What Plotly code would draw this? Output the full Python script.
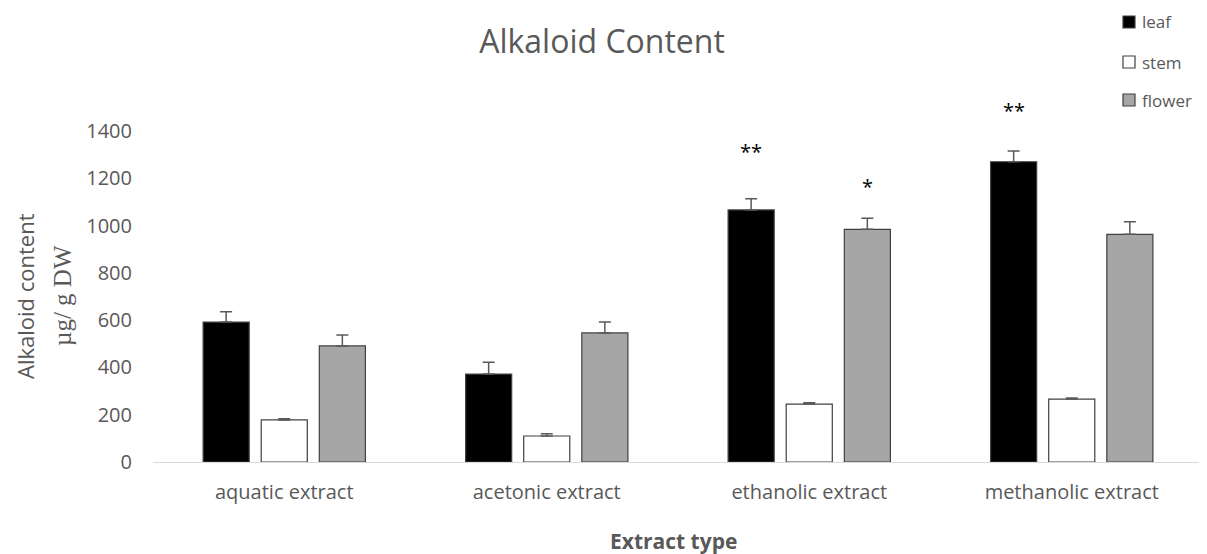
import plotly.graph_objects as go

categories = ["aquatic extract", "acetonic extract", "ethanolic extract", "methanolic extract"]
leaf = [592, 372, 1066, 1270]
leaf_err = [43, 50, 47, 45]
stem = [178, 110, 245, 266]
stem_err = [5, 10, 6, 5]
flower = [491, 546, 984, 963]
flower_err = [46, 46, 47, 53]
y_ticks = [0, 200, 400, 600, 800, 1000, 1200, 1400]

# significance markers: (category index, series, text)
marks = [(2, "leaf", "**"), (2, "flower", "*"), (3, "leaf", "**")]
mark_shift = [47, 32, 41]

TXT = "#595959"
FONT = "Open Sans"

FW, FH = 1207, 554
O = 8  # page body margin offset
# desired on-screen plot box
PX0, PX1, PY0, PY1 = 153, 1203, 131, 462
L = PX0 - O
R = FW + O - PX1
T = PY0 - O
B = FH + O - PY1
W = PX1 - PX0
H = PY1 - PY0


def px(x):
    return (x - PX0) / W


def py(y):
    return (PY1 - y) / H


cat_w = W / len(categories)
bargap = 0.336
slot = cat_w * (1 - bargap) / 3

fig = go.Figure()
series = [("leaf", leaf, leaf_err, "#000000"),
          ("stem", stem, stem_err, "#ffffff"),
          ("flower", flower, flower_err, "#a6a6a6")]
for name, vals, errs, col in series:
    fig.add_trace(go.Bar(
        name=name, x=categories, y=vals,
        marker=dict(color=col, line=dict(color="#404040", width=1.2)),
        error_y=dict(type="data", array=errs, symmetric=False, arrayminus=[0]*len(errs),
                     color="#595959", thickness=1.5, width=6),
        cliponaxis=False, showlegend=False,
    ))

offs = {"leaf": -slot, "stem": 0, "flower": slot}
lookup = {"leaf": (leaf, leaf_err), "stem": (stem, stem_err), "flower": (flower, flower_err)}
for (ci, s, txt), sh in zip(marks, mark_shift):
    v, e = lookup[s]
    fig.add_annotation(x=categories[ci], y=v[ci] + e[ci], xref="x", yref="y",
                       text=txt, showarrow=False, xshift=offs[s], yshift=sh, yanchor="middle",
                       font=dict(size=20, color="#000000", family=FONT))

# custom legend (top right)
leg_y = [22, 62, 100]
for (name, _, _, col), ly in zip(series, leg_y):
    fig.add_shape(type="rect", xref="paper", yref="paper",
                  x0=px(1123), x1=px(1135), y0=py(ly + 6), y1=py(ly - 6),
                  fillcolor=col, line=dict(color="#404040", width=1.2))
    fig.add_annotation(xref="paper", yref="paper", x=px(1140), y=py(ly),
                       xanchor="left", yanchor="middle", text=name, showarrow=False,
                       font=dict(size=17, color=TXT, family=FONT))

fig.add_annotation(xref="paper", yref="paper", x=px(673), y=py(541), yanchor="middle",
                   text="<b>Extract type</b>",
                   showarrow=False, font=dict(size=21, color=TXT, family=FONT))
fig.add_annotation(xref="paper", yref="paper", x=px(25), y=py(296), textangle=-90,
                   xanchor="center", yanchor="middle",
                   text="Alkaloid content", showarrow=False, font=dict(size=22, color=TXT, family=FONT))
fig.add_annotation(xref="paper", yref="paper", x=px(62), y=py(296), textangle=-90,
                   xanchor="center", yanchor="middle",
                   text="µg/ g DW", showarrow=False, font=dict(size=25, color=TXT, family="Liberation Serif"))

fig.update_layout(
    width=FW, height=FH,
    margin=dict(l=L, r=R, t=T, b=B, autoexpand=False),
    paper_bgcolor="white", plot_bgcolor="white",
    title=dict(text="Alkaloid Content", x=(602 - O) / FW, xref="container", xanchor="center",
               yref="container", y=1 - (42 - O) / FH, yanchor="middle",
               font=dict(size=32, color=TXT, family=FONT)),
    barmode="group", bargap=bargap, bargroupgap=0.207,
    font=dict(family=FONT, color=TXT, size=20),
    showlegend=False,
)
fig.update_xaxes(showline=True, linecolor="#d9d9d9", linewidth=1, showgrid=False, ticks="",
                 ticklabelstandoff=12, tickfont=dict(size=20, color=TXT, family=FONT))
fig.update_yaxes(range=[0, 1400], tickvals=y_ticks, showgrid=False, zeroline=False, showline=False,
                 ticks="", ticklabelstandoff=20, tickfont=dict(size=20, color=TXT, family=FONT))

fig.write_html("out.html")
